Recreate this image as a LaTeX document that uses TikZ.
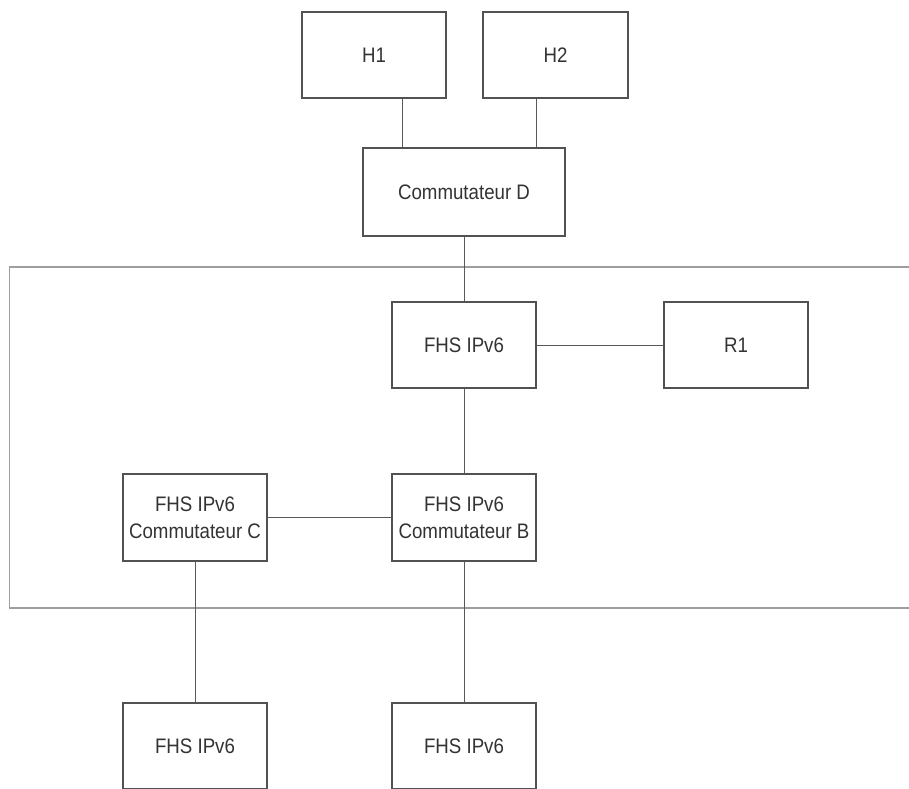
\documentclass[tikz,border=0pt]{standalone}
\usepackage{fontspec}
\setmainfont{Liberation Sans}[FakeStretch=0.89]
\begin{document}
\begin{tikzpicture}[x=1pt,y=-1pt,
  box/.style={draw=black!68,line width=1.3pt,fill=white,text=black!80,
    font=\fontsize{21}{26.7}\selectfont,align=center,inner sep=0pt},
  link/.style={draw=black!65,line width=1pt},
  frame/.style={draw=black!38,line width=1.8pt}]
\useasboundingbox (0,0) rectangle (909,788);
\fill[white] (0,0) rectangle (909,788);
\draw[frame] (9.5,267) rectangle (920,608);
\node[box,minimum width=144pt,minimum height=86pt] (H1) at (374,55) {H1};
\node[box,minimum width=145pt,minimum height=86pt] (H2) at (555.5,55) {H2};
\node[box,minimum width=202pt,minimum height=88pt] (D) at (464,192) {Commutateur D};
\node[box,minimum width=144pt,minimum height=86pt] (F0) at (464,345) {FHS IPv6};
\node[box,minimum width=144pt,minimum height=86pt] (R1) at (736,345) {R1};
\node[box,minimum width=144pt,minimum height=87pt] (C) at (195,517.5) {FHS IPv6\\Commutateur C};
\node[box,minimum width=144pt,minimum height=87pt] (B) at (464,517.5) {FHS IPv6\\Commutateur B};
\node[box,minimum width=144pt,minimum height=86pt] (L1) at (195,746) {FHS IPv6};
\node[box,minimum width=144pt,minimum height=86pt] (L2) at (464,746) {FHS IPv6};
\draw[link] ([xshift=28pt]H1.south) -- ([xshift=28pt]H1.south |- D.north);
\draw[link] ([xshift=-19.5pt]H2.south) -- ([xshift=-19.5pt]H2.south |- D.north);
\draw[link] (D.south) -- (F0.north);
\draw[link] (F0.east) -- (R1.west);
\draw[link] (F0.south) -- (B.north);
\draw[link] (C.east) -- (B.west);
\draw[link] (C.south) -- (L1.north);
\draw[link] (B.south) -- (L2.north);
\end{tikzpicture}
\end{document}
